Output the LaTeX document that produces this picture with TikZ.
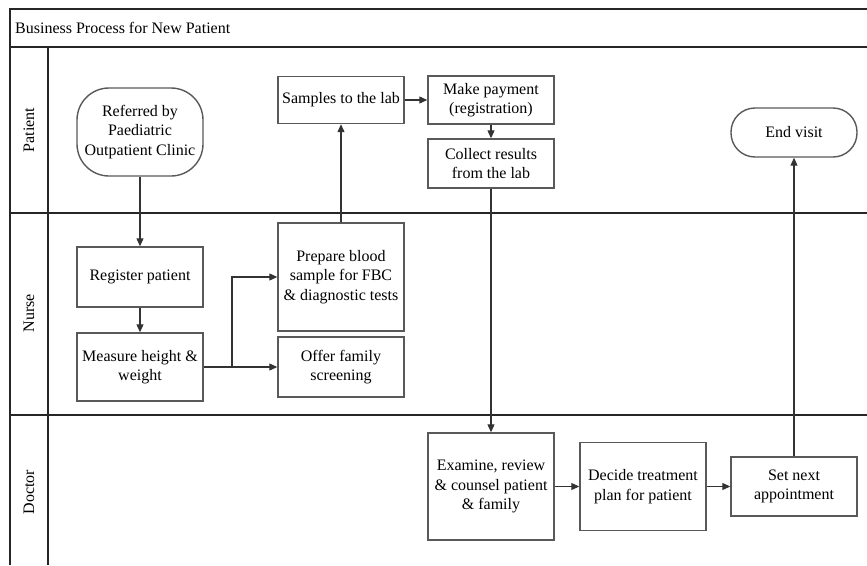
\documentclass[tikz,border=0pt]{standalone}
\usepackage{fontspec}
\setmainfont{Liberation Serif}
\newfontfamily\tnr{Liberation Serif}
\usetikzlibrary{arrows.meta}
\begin{document}
\begin{tikzpicture}[x=1pt,y=-1pt,
  frame/.style={draw=black!85,line width=2pt},
  box/.style={draw=black!65,line width=1.4pt,rectangle,align=center,inner sep=0pt,
    font=\tnr\fontsize{16}{19.5}\selectfont},
  term/.style={box,rounded corners=#1},
  lane/.style={rotate=90,font=\tnr\fontsize{16}{19.5}\selectfont,inner sep=0pt},
  arr/.style={draw=black!80,line width=1.1pt,-{Triangle[length=8pt,width=7pt]}}]
\useasboundingbox (0,0) rectangle (867,565);
% frame
\draw[frame] (10,565) -- (10,9) -- (867,9);
\draw[frame] (10,47) -- (867,47);
\draw[frame] (48,47) -- (48,565);
\draw[frame] (10,212.5) -- (867,212.5);
\draw[frame] (10,414.5) -- (867,414.5);
\node[anchor=west,inner sep=0pt,font=\tnr\fontsize{16}{19.5}\selectfont] (title) at (15,28) {Business Process for New Patient};
\node[lane] (lp) at (29,130) {Patient};
\node[lane] (ln) at (29,313) {Nurse};
\node[lane] (ld) at (29,492) {Doctor};
% nodes
\node[term=32pt,minimum width=126pt,minimum height=88pt] (ref) at (140,132) {Referred by\\Paediatric\\Outpatient Clinic};
\node[term=24pt,minimum width=126pt,minimum height=49pt] (endv) at (794,132.5) {End visit};
\node[box,minimum width=126pt,minimum height=47pt] (samples) at (341,100) {Samples to the lab};
\node[box,minimum width=126pt,minimum height=48pt] (pay) at (491,100) {Make payment\\(registration)};
\node[box,minimum width=126pt,minimum height=49pt] (collect) at (491,163.5) {Collect results\\from the lab};
\node[box,minimum width=126pt,minimum height=60pt] (reg) at (140,277) {Register patient};
\node[box,minimum width=126pt,minimum height=68pt] (meas) at (140,367) {Measure height \&\\weight};
\node[box,minimum width=126pt,minimum height=108pt] (prep) at (341,277) {Prepare blood\\sample for FBC\\\& diagnostic tests};
\node[box,minimum width=126pt,minimum height=60pt] (offer) at (341,367) {Offer family\\screening};
\node[box,minimum width=126pt,minimum height=107pt] (exam) at (491,486.5) {Examine, review\\\& counsel patient\\\& family};
\node[box,minimum width=126pt,minimum height=88pt] (decide) at (643,486.5) {Decide treatment\\plan for patient};
\node[box,minimum width=126pt,minimum height=59pt] (setn) at (794,486.5) {Set next\\appointment};
% connectors
\coordinate (j) at (232,367);
\draw[arr] (ref) -- (reg);
\draw[arr] (reg) -- (meas);
\draw[arr] (meas.east) -- (offer.west);
\draw[arr] (j) |- (prep.west);
\draw[arr] (prep.north) -- (samples.south);
\draw[arr] (samples) -- (pay);
\draw[arr] (pay) -- (collect);
\draw[arr] (collect) -- (exam);
\draw[arr] (exam) -- (decide);
\draw[arr] (decide) -- (setn);
\draw[arr] (setn) -- (endv);
\end{tikzpicture}
\end{document}
